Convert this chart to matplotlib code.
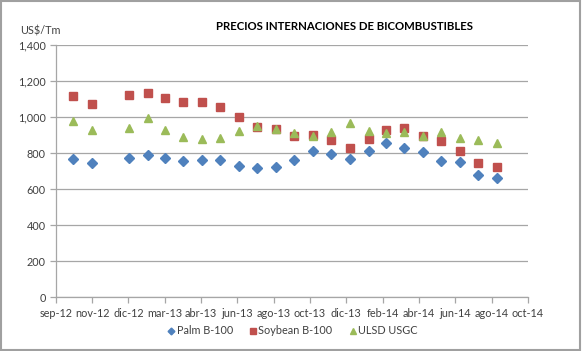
import matplotlib
matplotlib.use('Agg')
import matplotlib.pyplot as plt
import matplotlib.dates as mdates
from matplotlib.ticker import FuncFormatter, MultipleLocator
from matplotlib.patches import Rectangle
import numpy as np

plt.rcParams['font.family'] = ['Lato', 'DejaVu Sans']

# monthly prices, US$/Tm (dic-12 missing in the source)
fechas = ['2012-10-01', '2012-11-01',
          '2013-01-01', '2013-02-01', '2013-03-01', '2013-04-01', '2013-05-01', '2013-06-01',
          '2013-07-01', '2013-08-01', '2013-09-01', '2013-10-01', '2013-11-01', '2013-12-01',
          '2014-01-01', '2014-02-01', '2014-03-01', '2014-04-01', '2014-05-01', '2014-06-01',
          '2014-07-01', '2014-08-01', '2014-09-01']
palm = [767, 743, 774, 789, 770, 756, 761, 761, 728, 719, 724, 761,
        809, 794, 767, 813, 857, 826, 804, 757, 750, 676, 659]
soybean = [1118, 1072, 1122, 1131, 1104, 1083, 1081, 1057, 998, 946, 935, 894,
           900, 872, 828, 876, 928, 937, 894, 869, 813, 746, 720]
ulsd = [977, 928, 941, 993, 928, 891, 878, 883, 924, 952, 933, 913,
        895, 915, 965, 922, 909, 919, 894, 919, 881, 872, 854]

meses = ['ene', 'feb', 'mar', 'abr', 'may', 'jun', 'jul', 'ago', 'sep', 'oct', 'nov', 'dic']

x = np.array(fechas, dtype='datetime64[D]')
x_ini = np.datetime64('2012-09-02')
x_ticks = x_ini + np.arange(0, 781, 60)

fig = plt.figure(figsize=(5.82, 3.51), dpi=100)
ax = fig.add_axes([55.7 / 582, 1 - 297 / 351, (528 - 55.7) / 582, (297 - 45) / 351])

grid_col = '#a6a6a6'
ax.plot(x, palm, linestyle='none', marker='D', markersize=4.6, color='#4F81BD', label='Palm B-100')
ax.plot(x, soybean, linestyle='none', marker='s', markersize=5.5, color='#C0504D', label='Soybean B-100')
ax.plot(x, ulsd, linestyle='none', marker='^', markersize=5.8, color='#9BBB59', label='ULSD USGC')

ax.set_xlim(x_ticks[0], x_ticks[-1])
ax.set_xticks(x_ticks)
ax.xaxis.set_major_formatter(FuncFormatter(
    lambda v, p: f"{meses[mdates.num2date(v).month - 1]}-{mdates.num2date(v).strftime('%y')}"))

ax.set_ylim(0, 1400)
ax.yaxis.set_major_locator(MultipleLocator(200))
ax.yaxis.set_major_formatter(FuncFormatter(lambda v, p: f'{v:,.0f}'))
ax.grid(axis='y', color=grid_col, linewidth=0.9)
ax.set_axisbelow(True)

for s in ['top', 'right']:
    ax.spines[s].set_visible(False)
for s in ['left', 'bottom']:
    ax.spines[s].set_color(grid_col)
    ax.spines[s].set_linewidth(0.9)
ax.tick_params(axis='both', direction='out', length=4, width=0.9, color=grid_col,
               labelsize=7.8, labelcolor='#404040')
ax.tick_params(axis='y', pad=3)
ax.tick_params(axis='x', pad=4)

fig.text(344 / 582, 1 - 27 / 351, 'PRECIOS INTERNACIONES DE BICOMBUSTIBLES',
         ha='center', va='center', fontsize=8.2, fontweight='bold', color='black')
fig.text(20 / 582, 1 - 31 / 351, 'US$/Tm', ha='left', va='center', fontsize=7.8, color='#404040')

fig.legend(loc='center', bbox_to_anchor=(292 / 582, 1 - 331 / 351), ncol=3, frameon=False,
           fontsize=7.8, handletextpad=0.05, columnspacing=1.4, handlelength=0.9, markerscale=0.75,
           labelcolor='#404040')

fig.patches.append(Rectangle((0.002, 0.003), 0.995, 0.993, transform=fig.transFigure,
                             fill=False, edgecolor='#a0a0a0', linewidth=1.5))

fig.savefig('out.png', dpi=100)
